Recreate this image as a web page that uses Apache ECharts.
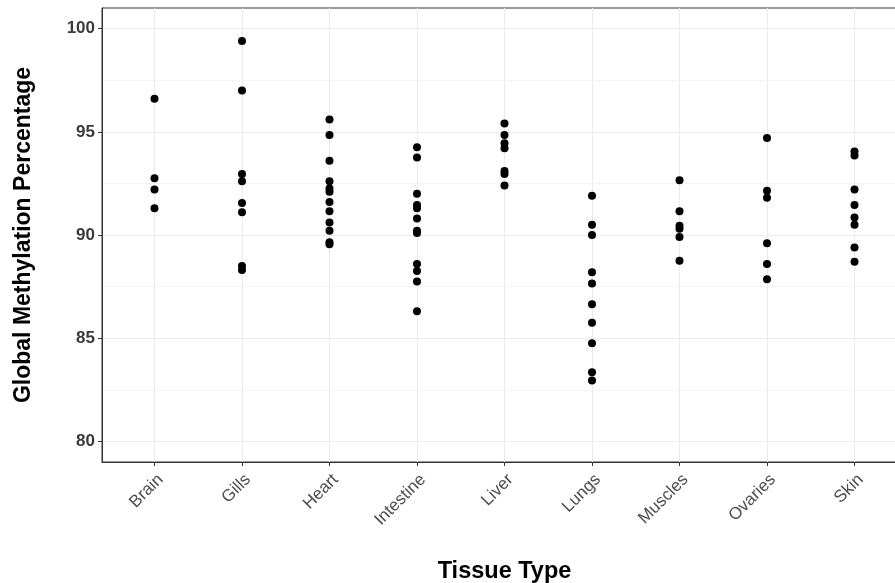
<!DOCTYPE html>
<html>
<head>
<meta charset="utf-8">
<script src="https://cdn.jsdelivr.net/npm/echarts@6/dist/echarts.min.js"></script>
<style>
html,body{margin:0;padding:0;background:#fff;}
#chart{width:895px;height:583px;}
</style>
</head>
<body>
<div id="chart"></div>
<script>
const categories = ['Brain','Gills','Heart','Intestine','Liver','Lungs','Muscles','Ovaries','Skin'];
const brain = [96.6, 92.75, 92.2, 91.3];
const gills = [99.4, 97.0, 92.95, 92.6, 91.55, 91.1, 88.5, 88.3];
const heart = [95.6, 94.85, 93.6, 92.6, 92.25, 92.1, 91.6, 91.15, 90.6, 90.2, 89.65, 89.55];
const intestine = [94.25, 93.75, 92.0, 91.45, 91.3, 90.8, 90.2, 90.1, 88.6, 88.25, 87.75, 86.3];
const liver = [95.4, 94.85, 94.45, 94.2, 93.1, 92.95, 92.4];
const lungs = [91.9, 90.5, 90.0, 88.2, 87.65, 86.65, 85.75, 84.75, 83.35, 82.95];
const muscles = [92.65, 91.15, 90.45, 90.3, 89.9, 88.75];
const ovaries = [94.7, 92.15, 91.8, 89.6, 88.6, 87.85];
const skin = [94.05, 93.85, 92.2, 91.45, 90.85, 90.5, 89.4, 88.7];
const yTicks = [80, 85, 90, 95, 100];
const yMinorBreaks = [82.5, 87.5, 92.5, 97.5];

const groups = [brain, gills, heart, intestine, liver, lungs, muscles, ovaries, skin];
const xPositions = categories.map((c, i) => i + 1);
const points = [];
groups.forEach((vals, i) => vals.forEach(v => points.push([i + 1, v])));

const chart = echarts.init(document.getElementById('chart'), null, {renderer: 'canvas'});
chart.setOption({
  animation: false,
  backgroundColor: '#ffffff',
  grid: {left: 102, top: 8, width: 805, height: 454, outerBoundsMode: 'none', containLabel: false,
    show: true, borderColor: '#333333', borderWidth: 1, backgroundColor: 'transparent'},
  xAxis: {
    type: 'value', min: 0.4, max: 9.6,
    name: 'Tissue Type', nameLocation: 'middle', nameGap: 98,
    nameTextStyle: {fontFamily: 'Liberation Sans', fontWeight: 'bold', fontSize: 23.5, color: '#000'},
    axisLine: {show: true, onZero: false, lineStyle: {color: '#333333', width: 1}},
    axisTick: {show: true, length: 4, customValues: xPositions, lineStyle: {color: '#333333'}},
    axisLabel: {customValues: xPositions, rotate: 45, margin: 9, align: 'right', verticalAlign: 'top',
      fontFamily: 'Liberation Sans', fontSize: 17, color: '#4d4d4d',
      formatter: v => categories[Math.round(v) - 1] || ''},
    splitLine: {show: true, lineStyle: {color: '#ebebeb', width: 1}}
  },
  yAxis: {
    type: 'value', min: 79, max: 101,
    name: 'Global Methylation Percentage', nameLocation: 'middle', nameGap: 67, nameRotate: 90,
    nameTextStyle: {fontFamily: 'Liberation Sans', fontWeight: 'bold', fontSize: 23, color: '#000'},
    axisLine: {show: true, onZero: false, lineStyle: {color: '#333333', width: 1}},
    axisTick: {show: true, length: 4, customValues: yTicks, lineStyle: {color: '#333333'}},
    axisLabel: {customValues: yTicks, margin: 7, fontFamily: 'Liberation Sans', fontWeight: 'bold', fontSize: 17, color: '#3a3a3a'},
    splitLine: {show: true, lineStyle: {color: '#ebebeb', width: 1.1}}
  },
  series: [
    {
      type: 'line', data: [], z: 0, zlevel: 0, silent: true,
      markLine: {silent: true, z: 0, symbol: 'none', animation: false, label: {show: false},
        lineStyle: {color: '#f0f0f0', width: 0.7, type: 'solid'},
        data: yMinorBreaks.map(v => ({yAxis: v}))}
    },
    {
      type: 'scatter', data: points, symbol: 'circle', symbolSize: 8, z: 10,
      itemStyle: {color: '#000000', opacity: 1}
    }
  ]
});
</script>
</body>
</html>
